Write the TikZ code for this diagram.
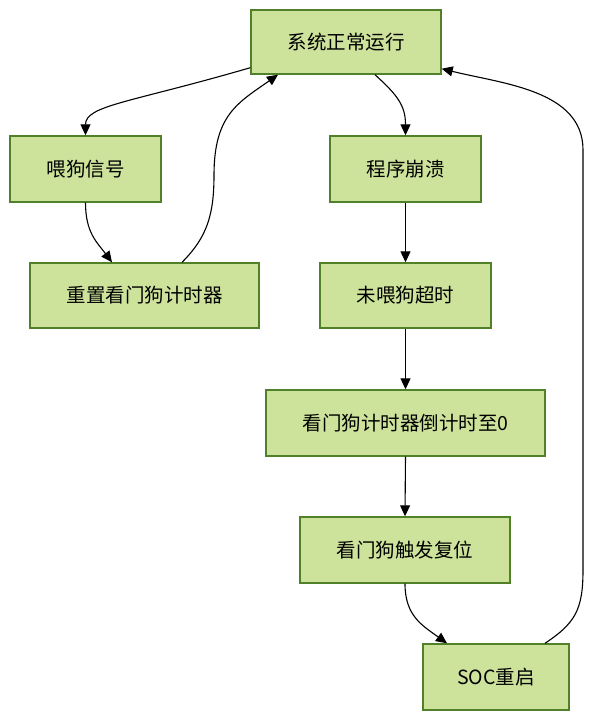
\documentclass[tikz,border=0pt]{standalone}
\usepackage{fontspec}
\setmainfont{Noto Sans CJK SC}
\usetikzlibrary{arrows.meta,calc}
\definecolor{boxfill}{RGB}{205,227,155}
\definecolor{boxline}{RGB}{80,128,40}
\begin{document}
\begin{tikzpicture}[x=1pt,y=-1pt,
  box/.style={draw=boxline,fill=boxfill,line width=1.4pt,inner sep=0pt,
    font=\fontsize{19.5}{23}\selectfont},
  flow/.style={line width=1.1pt,-{Triangle[length=11pt,width=10pt]}}]
\useasboundingbox (0,0) rectangle (597,720);
\node[box,minimum width=190pt,minimum height=64pt] (sys) at (346,42) {系统正常运行};
\node[box,minimum width=151pt,minimum height=66pt] (feed) at (85.5,169) {喂狗信号};
\node[box,minimum width=229pt,minimum height=65pt] (reset) at (144.5,295.5) {重置看门狗计时器};
\node[box,minimum width=151pt,minimum height=66pt] (crash) at (405.5,169) {程序崩溃};
\node[box,minimum width=171pt,minimum height=65pt] (timeout) at (405.5,295.5) {未喂狗超时};
\node[box,minimum width=279pt,minimum height=66pt] (count) at (405.5,423) {看门狗计时器倒计时至0};
\node[box,minimum width=210pt,minimum height=66pt] (trig) at (405,550) {看门狗触发复位};
\node[box,minimum width=146pt,minimum height=66pt] (soc) at (496,677) {SOC重启};

\draw[flow] ([yshift=7pt]sys.south west) .. controls +(-120,35) and +(0,-30) .. (feed.north);
\draw[flow] (feed.south) .. controls +(0,30) and +(-15,-20) .. ([xshift=-32.5pt]reset.north);
\draw[flow] ([xshift=37.5pt]reset.north) .. controls +(25,-25) and +(0,40) .. (214,175)
  .. controls +(0,-60) and +(-40,28) .. ([xshift=-68pt]sys.south);
\draw[flow] ([xshift=29pt]sys.south) .. controls +(22,20) and +(0,-30) .. (crash.north);
\draw[flow] (crash.south) -- (timeout.north);
\draw[flow] (timeout.south) -- (count.north);
\draw[flow] (count.south) -- (trig.north);
\draw[flow] (trig.south) .. controls +(0,32) and +(-25,-18) .. ([xshift=-49pt]soc.north);
\draw[flow] ([xshift=49pt]soc.north) .. controls +(30,-20) and +(0,40) .. (583,570)
  -- (583,150) .. controls +(0,-60) and +(60,15) .. ([yshift=6pt]sys.south east);
\end{tikzpicture}
\end{document}
